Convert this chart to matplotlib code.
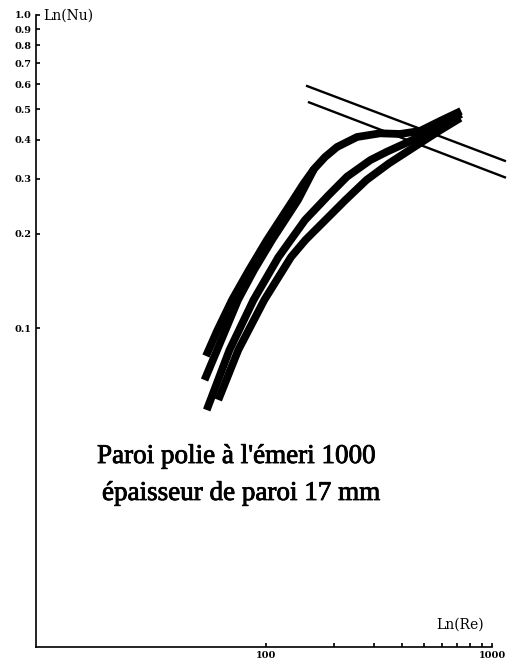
import matplotlib.pyplot as plt
import matplotlib.patheffects as pe
from matplotlib.ticker import FixedLocator, FixedFormatter, NullLocator

# Nu = f(Re) curves, log-log
re_a = [54.27, 60.71, 70.72, 84.09, 101.0, 131.7, 146.2, 163.1, 182.4, 206.2, 252.8, 319.5, 391.6, 480.1, 588.9, 729.4]
nu_a = [0.0814, 0.0978, 0.1229, 0.1532, 0.1911, 0.2564, 0.2884, 0.3221, 0.3517, 0.3787, 0.4076, 0.4188, 0.4168, 0.4260, 0.4584, 0.4935]

re_a2 = [53.45, 59.48, 75.17, 88.50, 106.3, 138.5, 163.1]
nu_a2 = [0.0682, 0.0820, 0.1229, 0.1532, 0.1911, 0.2564, 0.3221]

re_b = [54.65, 68.95, 88.05, 113.5, 148.8, 189.5, 228.2, 289.7, 343.1, 416.4, 485.1, 588.9, 729.4]
nu_b = [0.0547, 0.0851, 0.1229, 0.1685, 0.2213, 0.2660, 0.3044, 0.3440, 0.3659, 0.3900, 0.4107, 0.4418, 0.4827]

re_c = [61.50, 75.40, 98.28, 129.0, 149.5, 224.7, 278.4, 350.2, 431.9, 505.2, 591.9, 724.2]
nu_c = [0.0589, 0.0851, 0.1229, 0.1685, 0.1911, 0.2564, 0.2971, 0.3358, 0.3704, 0.3987, 0.4291, 0.4687]

# two straight reference lines
re_l1 = [152, 1140]
nu_l1 = [0.593, 0.342]
re_l2 = [155, 1140]
nu_l2 = [0.526, 0.303]

yticks = [0.1, 0.2, 0.3, 0.4, 0.5, 0.6, 0.7, 0.8, 0.9, 1.0]
ylabels = ['0.1', '0.2', '0.3', '0.4', '0.5', '0.6', '0.7', '0.8', '0.9', '1.0']
xticks = [100, 200, 300, 400, 500, 600, 700, 800, 900, 1000]
xlabels = ['100', '', '', '', '', '', '', '', '', '1000']

plt.rcParams['font.family'] = ['Liberation Serif', 'DejaVu Serif']

fig = plt.figure(figsize=(5.08, 6.63), dpi=100)
ax = fig.add_axes([36 / 508, 16 / 663, 456 / 508, 632 / 663])
ax.set_xscale('log')
ax.set_yscale('log')
ax.set_xlim(9.6, 1000)
ax.set_ylim(0.00957, 1.0)

for re, nu in [(re_a, nu_a), (re_a2, nu_a2), (re_b, nu_b), (re_c, nu_c)]:
    ax.plot(re, nu, color='black', lw=5.6, solid_capstyle='butt', solid_joinstyle='round')

ax.plot(re_l1, nu_l1, color='black', lw=1.7, clip_on=False)
ax.plot(re_l2, nu_l2, color='black', lw=1.7, clip_on=False)

for side in ['top', 'right']:
    ax.spines[side].set_visible(False)
for side in ['left', 'bottom']:
    ax.spines[side].set_linewidth(1.2)

ax.yaxis.set_major_locator(FixedLocator(yticks))
ax.yaxis.set_major_formatter(FixedFormatter(ylabels))
ax.yaxis.set_minor_locator(NullLocator())
ax.xaxis.set_major_locator(FixedLocator(xticks))
ax.xaxis.set_major_formatter(FixedFormatter(xlabels))
ax.xaxis.set_minor_locator(NullLocator())
ax.tick_params(direction='in', length=3, width=1.2, labelsize=7, pad=3)
for lab in ax.get_xticklabels() + ax.get_yticklabels():
    lab.set_fontweight('bold')
    lab.set_family('DejaVu Serif')

ax.text(0.015, 0.999, 'Ln(Nu)', transform=ax.transAxes, fontsize=10,
        family='DejaVu Serif', ha='left', va='center')
ax.text(0.93, 0.036, 'Ln(Re)', transform=ax.transAxes, fontsize=10,
        family='DejaVu Serif', ha='center', va='center')

stroke = [pe.withStroke(linewidth=0.6, foreground='black')]
ax.text(0.1338, 0.2911, "Paroi polie à l'émeri 1000", transform=ax.transAxes,
        fontsize=19.5, ha='left', va='baseline', path_effects=stroke)
ax.text(0.1447, 0.2326, 'épaisseur de paroi 17 mm', transform=ax.transAxes,
        fontsize=19.5, ha='left', va='baseline', path_effects=stroke)

plt.savefig('out.png', dpi=100)
